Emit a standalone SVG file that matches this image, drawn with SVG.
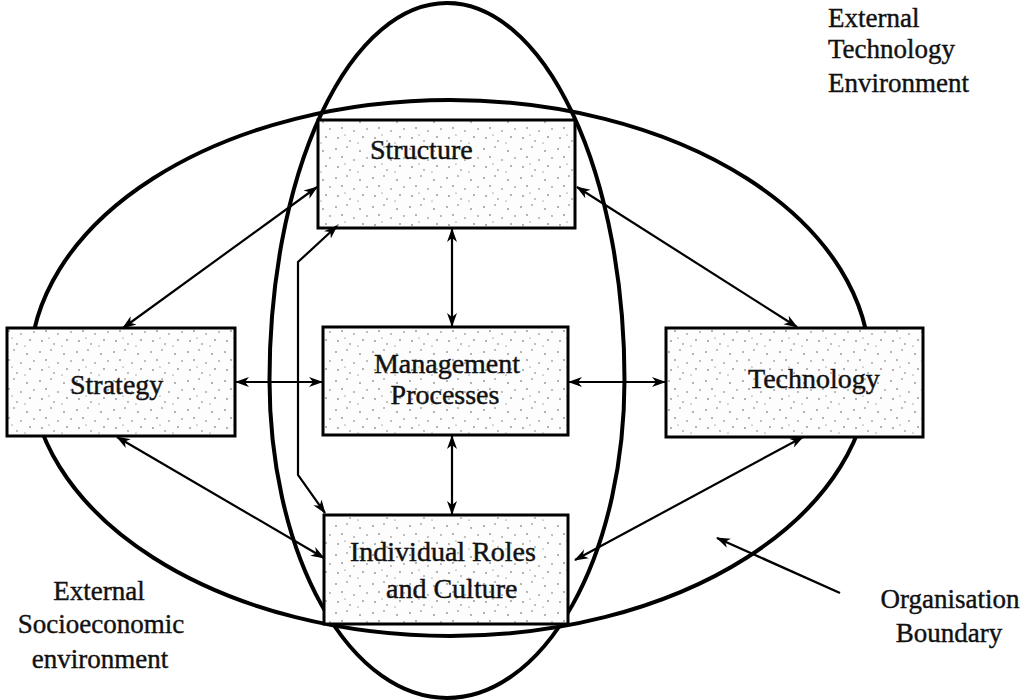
<svg xmlns="http://www.w3.org/2000/svg" width="1034" height="700" viewBox="0 0 1034 700">
  <style>
    .box { fill: url(#stipple); stroke: #000; stroke-width: 3; }
    .label { font-family: "Liberation Serif", "Times New Roman", serif; font-size: 28px; fill: #111; stroke: #111; stroke-width: 0.45; }
    .outer { font-family: "Liberation Serif", "Times New Roman", serif; font-size: 27px; fill: #111; stroke: #111; stroke-width: 0.4; }
    .boundary { fill: none; stroke: #000; stroke-width: 4; }
    .link { fill: none; stroke: #000; stroke-width: 2.2; marker-start: url(#head); marker-end: url(#head); }
    .pointer { fill: none; stroke: #000; stroke-width: 2.4; marker-end: url(#head); }
  </style>
  <defs>
    <!-- speckled paper fill for the boxes -->
    <pattern id="stipple" width="37" height="29" patternUnits="userSpaceOnUse">
      <rect width="37" height="29" fill="#fdfdfd"/>
      <g fill="#555">
        <circle cx="3" cy="4" r="0.8"/>
        <circle cx="14" cy="2" r="0.7"/>
        <circle cx="27" cy="6" r="0.8"/>
        <circle cx="34" cy="13" r="0.7"/>
        <circle cx="9" cy="12" r="0.8"/>
        <circle cx="21" cy="15" r="0.7"/>
        <circle cx="5" cy="22" r="0.8"/>
        <circle cx="17" cy="25" r="0.7"/>
        <circle cx="30" cy="21" r="0.8"/>
        <circle cx="25" cy="27" r="0.6"/>
        <circle cx="12" cy="19" r="0.6"/>
      </g>
    </pattern>
    <marker id="head" markerUnits="userSpaceOnUse" markerWidth="14" markerHeight="12" viewBox="0 0 14 10" refX="13" refY="5" orient="auto-start-reverse">
      <path d="M0,0 L14,5 L0,10 L4,5 Z" fill="#000"/>
    </marker>
  </defs>

  <rect width="1034" height="700" fill="#fff"/>

  <!-- organisation boundary and the egg-shaped core, drawn beneath the boxes -->
  <g id="boundaries">
    <ellipse class="boundary" cx="450" cy="368" rx="420" ry="268"/>
    <path class="boundary" d="M447 3 A177.5 377 0 0 0 269.5 380 A177.5 318 0 0 0 447 698 A177.5 318 0 0 0 624.5 380 A177.5 377 0 0 0 447 3 Z"/>
  </g>

  <!-- component boxes -->
  <g id="structure">
    <rect class="box" x="318" y="120" width="257" height="108"/>
    <text class="label" x="370" y="159">Structure</text>
  </g>
  <g id="strategy">
    <rect class="box" x="7" y="328" width="228" height="108"/>
    <text class="label" x="70" y="394">Strategy</text>
  </g>
  <g id="management-processes">
    <rect class="box" x="323" y="327" width="245" height="108"/>
    <text class="label" x="447" y="373" text-anchor="middle" font-size="27">Management</text>
    <text class="label" x="445" y="404" text-anchor="middle" font-size="27">Processes</text>
  </g>
  <g id="technology">
    <rect class="box" x="666" y="328" width="257" height="109"/>
    <text class="label" x="748" y="388">Technology</text>
  </g>
  <g id="individual-roles">
    <rect class="box" x="324" y="515" width="244" height="109"/>
    <text class="label" x="350" y="561">Individual Roles</text>
    <text class="label" x="386" y="598">and Culture</text>
  </g>

  <!-- connectors -->
  <g id="connectors">
    <line class="link" x1="123" y1="328" x2="317" y2="187"/>
    <line class="link" x1="117" y1="437" x2="324" y2="558"/>
    <line class="link" x1="236" y1="382" x2="322" y2="382"/>
    <line class="link" x1="569" y1="382" x2="665" y2="382"/>
    <line class="link" x1="452" y1="229" x2="452" y2="326"/>
    <line class="link" x1="452" y1="436" x2="452" y2="514"/>
    <line class="link" x1="577" y1="187" x2="797" y2="327"/>
    <line class="link" x1="803" y1="437" x2="575" y2="560"/>
    <path class="link" d="M337 226 L298 262 L298 475 L325 513"/>
    <line class="pointer" x1="840" y1="593" x2="717" y2="538"/>
  </g>

  <!-- surrounding environment labels -->
  <g id="external-technology">
    <text class="outer" x="828" y="27">External</text>
    <text class="outer" x="828" y="58">Technology</text>
    <text class="outer" x="828" y="92">Environment</text>
  </g>
  <g id="external-socioeconomic">
    <text class="outer" x="99" y="600" text-anchor="middle">External</text>
    <text class="outer" x="101" y="633" text-anchor="middle">Socioeconomic</text>
    <text class="outer" x="100" y="668" text-anchor="middle">environment</text>
  </g>
  <g id="organisation-boundary">
    <text class="outer" x="950" y="608" text-anchor="middle">Organisation</text>
    <text class="outer" x="949" y="642" text-anchor="middle">Boundary</text>
  </g>
</svg>
